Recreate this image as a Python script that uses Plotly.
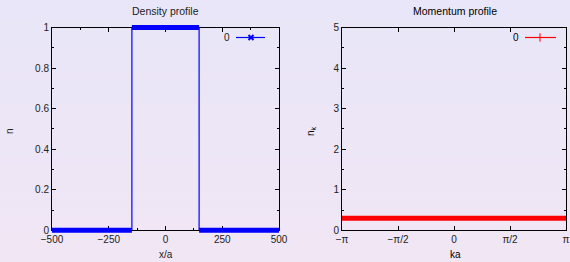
import math
import plotly.graph_objects as go

# ---------------- data ----------------
x_sites = [-500, -148, -148, 148, 148, 500]
n_density = [0, 0, 1, 1, 0, 0]

k_values = [-math.pi, math.pi]
nk_values = [0.297, 0.297]

density_xticks = [-500, -250, 0, 250, 500]
density_xlabels = ["\u2212500", "\u2212250", "0", "250", "500"]
density_yticks = [0, 0.2, 0.4, 0.6, 0.8, 1]
density_ylabels = ["0", "0.2", "0.4", "0.6", "0.8", "1"]
momentum_xticks = [-math.pi, -math.pi / 2, 0, math.pi / 2, math.pi]
momentum_xlabels = ["\u2212\u03c0", "\u2212\u03c0/2", "0", "\u03c0/2", "\u03c0"]
momentum_yticks = [0, 1, 2, 3, 4, 5]

series_name = "0"

# ---------------- layout geometry (pixels) ----------------
W, H = 570, 262
LX = (52, 279)
RX = (342, 566)
PY = (27.5, 230.3)  # top, bottom
PAD = 5

def xdom(a, b):
    return [a / W, b / W]

def ydom(top, bottom):
    return [(H - bottom) / H, (H - top) / H]

def padded_x(px, r):
    a = max(0, px[0] - PAD)
    b = min(W, px[1] + PAD)
    per = (r[1] - r[0]) / (px[1] - px[0])
    return xdom(a, b), [r[0] - (px[0] - a) * per, r[1] + (b - px[1]) * per]

def padded_y(py, r):
    top = max(0, py[0] - PAD)
    bot = min(H, py[1] + PAD)
    per = (r[1] - r[0]) / (py[1] - py[0])
    return ydom(top, bot), [r[0] - (bot - py[1]) * per, r[1] + (py[0] - top) * per]

BLUE = "#0000ff"
RED = "#ff0000"
FONT = "Liberation Sans, Arial, sans-serif"

fig = go.Figure()

fig.add_trace(go.Scatter(x=x_sites, y=n_density, mode="lines",
                         line=dict(color=BLUE, width=1.2),
                         xaxis="x", yaxis="y", showlegend=False, hoverinfo="skip"))

fig.add_trace(go.Scatter(x=k_values, y=nk_values, mode="lines",
                         line=dict(color=RED, width=1),
                         xaxis="x2", yaxis="y2", showlegend=False, hoverinfo="skip"))

band_x = x_sites[0:2] + [None] + x_sites[2:4] + [None] + x_sites[4:6]
band_y = n_density[0:2] + [None] + n_density[2:4] + [None] + n_density[4:6]
fig.add_trace(go.Scatter(x=band_x, y=band_y, mode="lines",
                         line=dict(color=BLUE, width=5),
                         xaxis="x3", yaxis="y3", showlegend=False, hoverinfo="skip"))

fig.add_trace(go.Scatter(x=k_values, y=nk_values, mode="lines",
                         line=dict(color=RED, width=5),
                         xaxis="x4", yaxis="y4", showlegend=False, hoverinfo="skip"))

# legend samples (pixel coordinate overlay)
fig.add_trace(go.Scatter(x=[236, 265], y=[37.5, 37.5], mode="lines",
                         line=dict(color=BLUE, width=1.2),
                         xaxis="x5", yaxis="y5", showlegend=False, hoverinfo="skip"))
fig.add_trace(go.Scatter(x=[251], y=[37.5], mode="markers",
                         marker=dict(symbol="x-thin", size=5, color=BLUE,
                                     line=dict(color=BLUE, width=2)),
                         xaxis="x5", yaxis="y5", showlegend=False, hoverinfo="skip"))
fig.add_trace(go.Scatter(x=[525, 556], y=[37.5, 37.5], mode="lines",
                         line=dict(color=RED, width=1.2),
                         xaxis="x5", yaxis="y5", showlegend=False, hoverinfo="skip"))
fig.add_trace(go.Scatter(x=[540], y=[37.5], mode="markers",
                         marker=dict(symbol="cross-thin", size=6, color=RED,
                                     line=dict(color=RED, width=1)),
                         xaxis="x5", yaxis="y5", showlegend=False, hoverinfo="skip"))

axis_common = dict(showline=True, linecolor="black", linewidth=1, mirror="ticks",
                   ticks="inside", ticklen=4, tickcolor="black", tickwidth=1,
                   showgrid=False, zeroline=False, fixedrange=True, automargin=False,
                   tickfont=dict(family=FONT, size=10, color="#222"))

hidden = dict(visible=False, fixedrange=True, showgrid=False, zeroline=False,
              automargin=False)

x3d, x3r = padded_x(LX, [-500, 500])
y3d, y3r = padded_y(PY, [0, 1])
x4d, x4r = padded_x(RX, [-math.pi, math.pi])
y4d, y4r = padded_y(PY, [0, 5])

fig.update_layout(
    width=W, height=H,
    margin=dict(l=0, r=0, t=0, b=0, pad=0, autoexpand=False),
    paper_bgcolor="#ece6f6",
    plot_bgcolor="rgba(0,0,0,0)",
    xaxis=dict(domain=xdom(*LX), range=[-500, 500], anchor="y",
               tickvals=density_xticks, ticktext=density_xlabels,
               minor=dict(dtick=125, tick0=0, ticks="inside", ticklen=2,
                          tickcolor="black", showgrid=False),
               **axis_common),
    yaxis=dict(domain=ydom(*PY), range=[0, 1], anchor="x",
               tickvals=density_yticks, ticktext=density_ylabels,
               minor=dict(dtick=0.1, tick0=0, ticks="inside", ticklen=2,
                          tickcolor="black", showgrid=False),
               **axis_common),
    xaxis2=dict(domain=xdom(*RX), range=[-math.pi, math.pi], anchor="y2",
                tickvals=momentum_xticks, ticktext=momentum_xlabels,
                **axis_common),
    yaxis2=dict(domain=ydom(*PY), range=[0, 5], anchor="x2",
                tickvals=momentum_yticks,
                minor=dict(dtick=0.5, tick0=0, ticks="inside", ticklen=2,
                           tickcolor="black", showgrid=False),
                **axis_common),
    xaxis3=dict(domain=x3d, range=x3r, anchor="y3", **hidden),
    yaxis3=dict(domain=y3d, range=y3r, anchor="x3", **hidden),
    xaxis4=dict(domain=x4d, range=x4r, anchor="y4", **hidden),
    yaxis4=dict(domain=y4d, range=y4r, anchor="x4", **hidden),
    xaxis5=dict(domain=[0, 1], range=[0, W], anchor="y5", **hidden),
    yaxis5=dict(domain=[0, 1], range=[H, 0], anchor="x5", **hidden),
)

# gradient background bands
N_BANDS = 40
top_c = (232, 230, 248)
bot_c = (241, 230, 244)
shapes = []
for i in range(N_BANDS):
    t = i / (N_BANDS - 1)
    c = tuple(round(top_c[j] + (bot_c[j] - top_c[j]) * t) for j in range(3))
    shapes.append(dict(type="rect", xref="paper", yref="paper", layer="below",
                       x0=0, x1=1, y0=1 - (i + 1) / N_BANDS, y1=1 - i / N_BANDS,
                       line=dict(width=0), fillcolor="rgb(%d,%d,%d)" % c))
fig.update_layout(shapes=shapes)

def px_ann(text, x, y, size=10, color="#222", angle=0):
    return dict(text=text, x=x / W, y=1 - y / H, xref="paper", yref="paper",
                showarrow=False, xanchor="center", yanchor="middle",
                textangle=angle, font=dict(family=FONT, size=size, color=color))

fig.update_layout(annotations=[
    px_ann("Density profile", 165.5, 11.5, size=10.5),
    px_ann("Momentum profile", 455, 11.5, size=10.5, color="#000"),
    px_ann("x/a", 165.5, 254),
    px_ann("ka", 455, 254, color="#000"),
    px_ann("n", 9, 131, angle=-90),
    px_ann("n<sub>k</sub>", 311, 131, color="#000", angle=-90),
    px_ann(series_name, 226.5, 37.5),
    px_ann(series_name, 515.5, 37.5, color="#000"),
])

fig.write_html("out.html",
               config={"displayModeBar": False, "staticPlot": True},
               post_script="document.body.style.margin='0';"
                           "document.body.style.overflow='hidden';")
